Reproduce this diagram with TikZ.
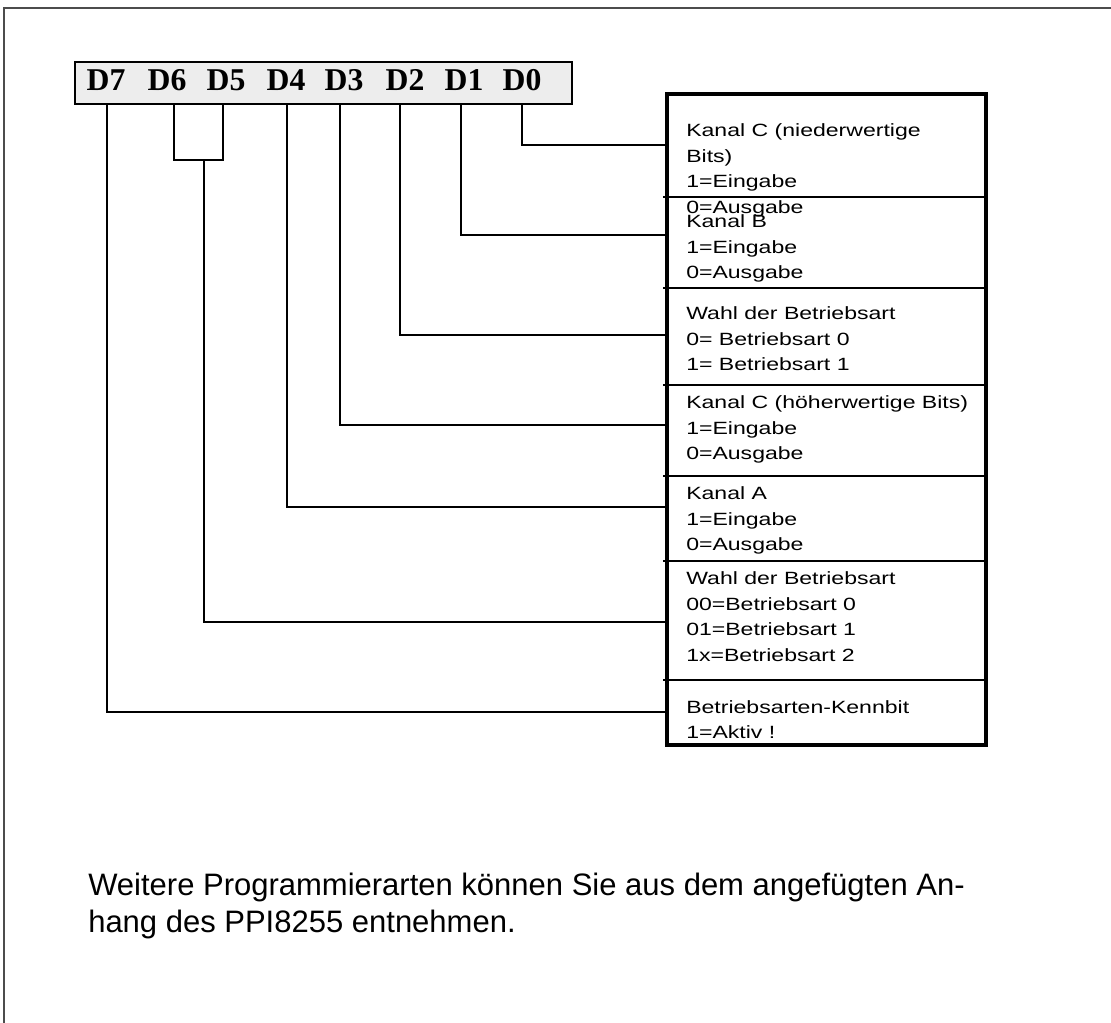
\documentclass[tikz,border=0pt]{standalone}
\usepackage{fontspec}
\setmainfont{Liberation Sans}
\newfontfamily\bitfont{Liberation Serif}
\newfontfamily\boxfont[FakeStretch=1.3]{Liberation Sans}
\usetikzlibrary{positioning}
\newcommand{\textlines}[1]{\begin{tabular}[t]{@{}l@{}}#1\end{tabular}}

\begin{document}
\begin{tikzpicture}[x=0.75pt,y=-0.75pt]
			\tikzstyle{frame}=[draw=black!70,line width=1.5pt]
			\tikzstyle{register}=[rectangle,draw,line width=2.2pt,fill=black!7,minimum width=372.75pt,minimum height=31.5pt,inner sep=0pt]
			\tikzstyle{bit}=[inner sep=0pt,anchor=base,font=\bitfont\bfseries\fontsize{23.8}{28}\selectfont]
			\tikzstyle{wire}=[line width=1.5pt]
			\tikzstyle{sep}=[line width=0.8pt]
			\tikzstyle{ctrlbox}=[rectangle,draw,line width=3.4pt,minimum width=239.25pt,minimum height=488.25pt,inner sep=0pt]
			\tikzstyle{info}=[inner sep=0pt,anchor=base west,font=\boxfont\fontsize{13.3}{19.1}\selectfont]
			\tikzstyle{note}=[inner sep=0pt,anchor=base west,font=\fontsize{23.25}{27.75}\selectfont]
			
			\useasboundingbox (0,0) rectangle (1111,1023);
			\draw[frame] (4,1040) -- (4,8) -- (1130,8);
			
			% register with the bits
			\node[register] (reg) at (323.5,83) {};
			\foreach \n/\x in {7/106,6/167,5/226,4/286,3/344,2/405,1/464,0/522}
				\node[bit] (d\n) at (\x,91) {D\n};
			
			% sections of the control word
			\foreach \y in {197,288,385,476,561,680}
				\draw[sep] (663,\y) -- (986,\y);
			\node[ctrlbox] (ctrl) at (826.5,419.5) {};
			
			\node[info] (t0) at (686,137) {\textlines{Kanal C (niederwertige\\Bits)\\1=Eingabe\\0=Ausgabe}};
			\node[info] (t1) at (686,228) {\textlines{Kanal B\\1=Eingabe\\0=Ausgabe}};
			\node[info] (t2) at (686,320) {\textlines{Wahl der Betriebsart\\0= Betriebsart 0\\1= Betriebsart 1}};
			\node[info] (t3) at (686,409) {\textlines{Kanal C (h\"oherwertige Bits)\\1=Eingabe\\0=Ausgabe}};
			\node[info] (t4) at (686,500) {\textlines{Kanal A\\1=Eingabe\\0=Ausgabe}};
			\node[info] (t5) at (686,585) {\textlines{Wahl der Betriebsart\\00=Betriebsart 0\\01=Betriebsart 1\\1x=Betriebsart 2}};
			\node[info] (t6) at (686,713) {\textlines{Betriebsarten-Kennbit\\1=Aktiv !}};
			
			% connectors
			\foreach \n/\x/\y in {0/522/145,1/461/235,2/400/335,3/340/425,4/287/507,7/107/712} {
				\coordinate (b\n) at (\x,104);
				\coordinate (p\n) at (667,\y);
			}
			\foreach \n in {0,1,2,3,4,7}
				\draw[wire] (b\n) |- (p\n);
			\coordinate (b6) at (174,104);
			\coordinate (b5) at (223,104);
			\coordinate (m56) at (204,160);
			\coordinate (p56) at (667,622);
			\draw[wire] (b6) |- (m56) -| (b5);
			\draw[wire] (m56) |- (p56);
			
			\node[note] (hint) at (88,895) {\textlines{Weitere Programmierarten k\"onnen Sie aus dem angef\"ugten An-\\hang des PPI8255 entnehmen.}};
\end{tikzpicture}
\end{document}
